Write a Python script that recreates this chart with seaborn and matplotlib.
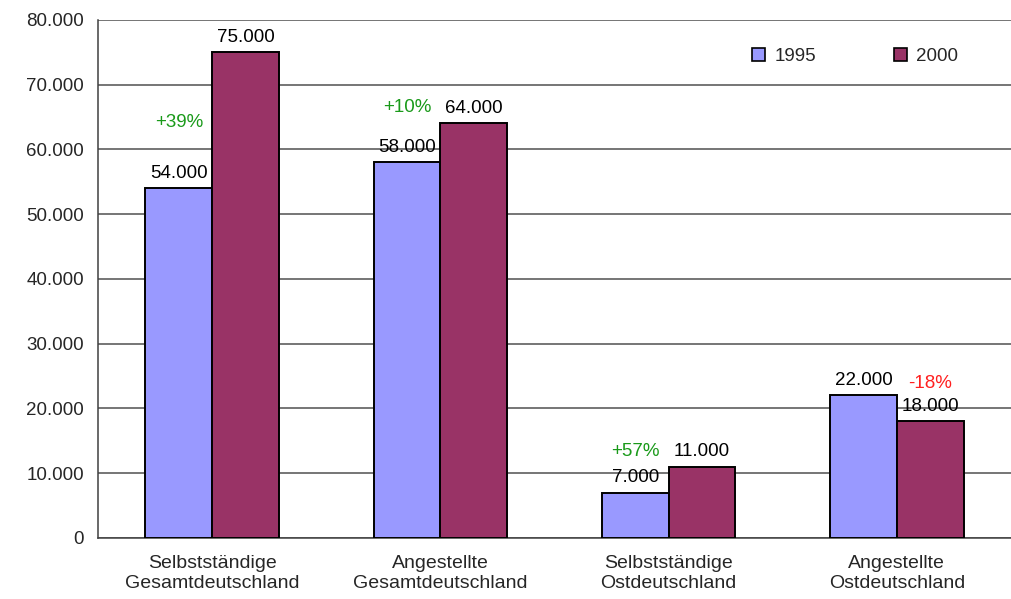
import pandas as pd
import matplotlib
matplotlib.use("Agg")
import matplotlib.pyplot as plt
import seaborn as sns

categories = ["Selbstständige\nGesamtdeutschland", "Angestellte\nGesamtdeutschland",
              "Selbstständige\nOstdeutschland", "Angestellte\nOstdeutschland"]
years = ["1995", "2000"]
values_1995 = [54000, 58000, 7000, 22000]
values_2000 = [75000, 64000, 11000, 18000]
pct_labels = ["+39%", "+10%", "+57%", "-18%"]
pct_colors = ["#1a9a1a", "#1a9a1a", "#1a9a1a", "#ff2020"]
pct_on_2000 = [False, False, False, True]   # which bar the % label sits over
pct_lift = [10200, 8400, 6300, 5900]        # height above that bar

df = pd.DataFrame({
    "Kategorie": categories * 2,
    "Jahr": [years[0]] * 4 + [years[1]] * 4,
    "Wert": values_1995 + values_2000,
})

sns.set_style("white")
plt.rcParams["font.family"] = ["Liberation Sans", "DejaVu Sans"]

fig = plt.figure(figsize=(10.11, 5.99), dpi=100)
ax = fig.add_axes([0.097, 0.102, 0.903, 0.865])

palette = {"1995": "#9999FF", "2000": "#993366"}
sns.barplot(data=df, x="Kategorie", y="Wert", hue="Jahr", palette=palette,
            width=0.585, edgecolor="black", linewidth=1.4, saturation=1,
            ax=ax, zorder=3)

# value labels above bars
for cont in ax.containers:
    for bar in cont:
        h = bar.get_height()
        ax.text(bar.get_x() + bar.get_width() / 2, h + 1000,
                f"{int(h):,}".replace(",", "."), ha="center", va="bottom",
                fontsize=13.5, color="black", zorder=4)

# percentage changes
for i, lab in enumerate(pct_labels):
    cont = ax.containers[1] if pct_on_2000[i] else ax.containers[0]
    bar = cont[i]
    ax.text(bar.get_x() + bar.get_width() / 2, bar.get_height() + pct_lift[i], lab,
            ha="center", va="center", fontsize=13.5, color=pct_colors[i], zorder=4)

ax.set_ylim(0, 80000)
ax.set_xlim(-0.5, 3.5)
ax.set_yticks(range(0, 80001, 10000))
ax.set_yticklabels([f"{v:,}".replace(",", ".") for v in range(0, 80001, 10000)], fontsize=13.5)
ax.yaxis.grid(True, color="#505050", linewidth=1.1, zorder=0)
ax.set_axisbelow(True)
ax.tick_params(axis="y", length=6, width=1.1, color="#404040", pad=4)
ax.tick_params(axis="x", which="major", length=0, labelsize=14, pad=12)
for t in ax.get_xticklabels():
    t.set_linespacing(1.25)
ax.set_xticks([-0.5, 0.5, 1.5, 2.5, 3.5], minor=True)
ax.tick_params(axis="x", which="minor", length=6, width=1.1, color="#404040")
ax.set_xlabel("")
ax.set_ylabel("")

for s in ["top", "right"]:
    ax.spines[s].set_visible(False)
for s in ["left", "bottom"]:
    ax.spines[s].set_color("#404040")
    ax.spines[s].set_linewidth(1.1)

leg = ax.legend(loc="center", bbox_to_anchor=(0.829, 0.929), ncol=2, frameon=False,
                fontsize=13.5, handlelength=0.7, handleheight=0.7, columnspacing=4.15,
                handletextpad=0.5)
for h in leg.legend_handles:
    h.set_edgecolor("black")
    h.set_linewidth(1.2)

fig.savefig("out.png", dpi=100)
